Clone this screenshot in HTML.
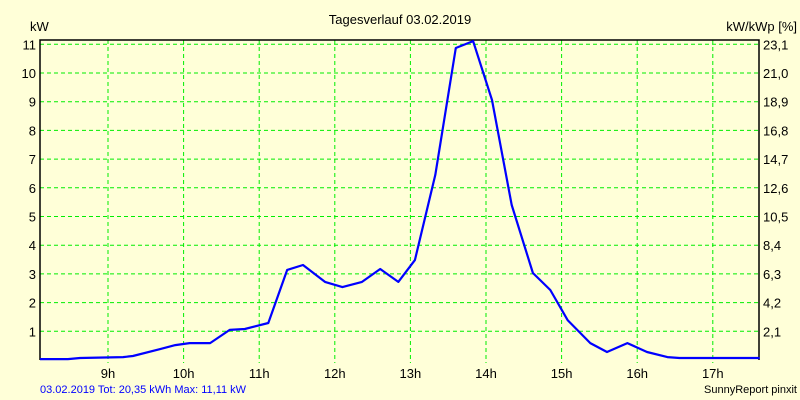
<!DOCTYPE html>
<html><head><meta charset="utf-8"><style>
body{margin:0;background:#ffffd8;}
svg{display:block;font-family:"Liberation Sans",sans-serif;}
</style></head><body>
<svg id="chart" width="800" height="400">
<rect x="0" y="0" width="800" height="400" fill="#ffffd8"/>
<text x="400" y="24" font-size="13" text-anchor="middle">Tagesverlauf 03.02.2019</text>
<text x="30" y="31" font-size="13">kW</text>
<text x="797" y="31" font-size="13" text-anchor="end">kW/kWp [%]</text>
<g id="grid"></g>
<g id="axes"></g>
<g id="series"></g>
<text x="40" y="393" font-size="11" fill="#0000ff">03.02.2019 Tot: 20,35 kWh Max: 11,11 kW</text>
<text x="797" y="393" font-size="11" text-anchor="end">SunnyReport pinxit</text>
</svg>
<script>
const hours=[8.10,8.47,8.63,9.20,9.33,9.69,9.89,10.08,10.35,10.61,10.81,11.12,11.37,11.58,11.87,12.10,12.36,12.60,12.84,13.06,13.33,13.60,13.83,14.08,14.34,14.62,14.85,15.08,15.38,15.60,15.87,16.13,16.40,16.56,17.62];
const powerKW=[0.03,0.03,0.07,0.1,0.14,0.38,0.52,0.59,0.59,1.05,1.08,1.29,3.14,3.31,2.72,2.54,2.72,3.17,2.72,3.48,6.45,10.87,11.11,9.06,5.4,3.03,2.44,1.39,0.59,0.28,0.59,0.28,0.1,0.07,0.07];
const yTicks=[1,2,3,4,5,6,7,8,9,10,11];
const rightLabels=["2,1","4,2","6,3","8,4","10,5","12,6","14,7","16,8","18,9","21,0","23,1"];
const xTicks=[9,10,11,12,13,14,15,16,17];
const X0=40,X1=759,Y0=360,Y1=40;
const x=h=>108+75.6*(h-9);
const y=v=>360-28.7*v;
const NS="http://www.w3.org/2000/svg";
function mk(tag,parent,attrs){const e=document.createElementNS(NS,tag);for(const k in attrs)e.setAttribute(k,attrs[k]);parent.appendChild(e);return e;}
const grid=document.getElementById('grid'),axes=document.getElementById('axes'),series=document.getElementById('series');
yTicks.forEach((v,i)=>{
 const l=mk('line',grid,{x1:X0,x2:X1,y1:y(v),y2:y(v),stroke:'#00ee00','stroke-dasharray':'4,3','stroke-width':1});
 
 
 const t=mk('text',axes,{x:36,y:y(v)+5,'font-size':13,'text-anchor':'end'});t.textContent=v;
 
 
 const r=mk('text',axes,{x:763,y:y(v)+5,'font-size':13});r.textContent=rightLabels[i];
 
 
});
xTicks.forEach(h=>{
 const l=mk('line',grid,{x1:x(h),x2:x(h),y1:Y1,y2:Y0+3,stroke:'#00ee00','stroke-dasharray':'4,3','stroke-width':1});
 
 
 const t=mk('text',axes,{x:x(h),y:378,'font-size':13,'text-anchor':'middle'});t.textContent=h+'h';
 
 
});
const f=mk('path',axes,{d:`M${X0},${Y0}V${Y1}H${X1}V${Y0}`,fill:'none',stroke:'#000','stroke-width':1.5});


const p=mk('polyline',series,{points:hours.map((h,i)=>x(h).toFixed(1)+','+y(powerKW[i]).toFixed(1)).join(' '),fill:'none',stroke:'#0000ff','stroke-width':2.2,'stroke-linejoin':'round'});


</script>
</body></html>
